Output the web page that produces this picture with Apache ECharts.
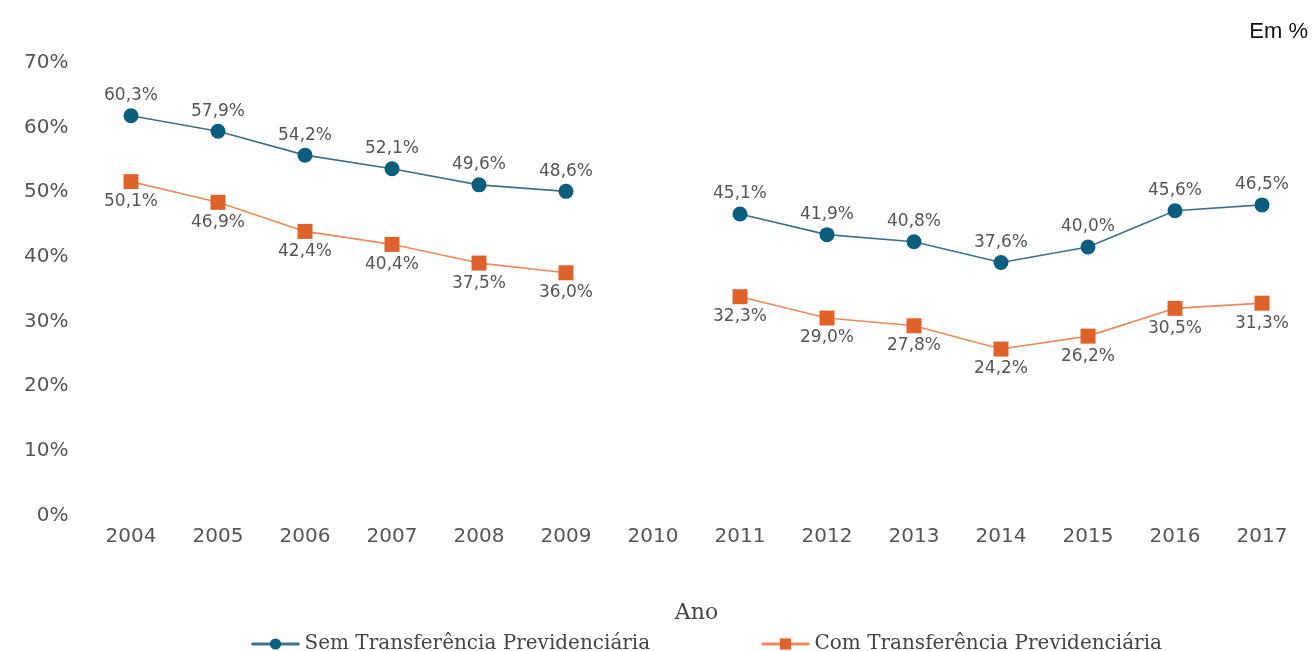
<!DOCTYPE html>
<html>
<head>
<meta charset="utf-8">
<script src="https://cdn.jsdelivr.net/npm/echarts@6/dist/echarts.min.js"></script>
<style>html,body{margin:0;padding:0;background:#fff;}#c{width:1314px;height:651px;}</style>
</head>
<body>
<div id="c"></div>
<script>
const categories = ['2004','2005','2006','2007','2008','2009','2010','2011','2012','2013','2014','2015','2016','2017'];
const semTransf = [60.3, 57.9, 54.2, 52.1, 49.6, 48.6, null, 45.1, 41.9, 40.8, 37.6, 40.0, 45.6, 46.5];
const comTransf = [50.1, 46.9, 42.4, 40.4, 37.5, 36.0, null, 32.3, 29.0, 27.8, 24.2, 26.2, 30.5, 31.3];
const seriesNames = ['Sem Transferência Previdenciária', 'Com Transferência Previdenciária'];

const fmt = p => p.value == null ? '' : p.value.toFixed(1).replace('.', ',') + '%';
const legendText = { fontFamily: 'DejaVu Serif', fontSize: 20, color: '#444' };
const chart = echarts.init(document.getElementById('c'));
chart.setOption({
  backgroundColor: '#fff',
  animation: false,
  title: {
    text: 'Em %', right: 1, top: 16,
    textStyle: { fontFamily: 'Liberation Sans', fontSize: 22, fontWeight: 'normal', color: '#111' }
  },
  legend: [
    { data: [seriesNames[0]], left: 245, top: 629, itemWidth: 48, itemHeight: 14, itemGap: 8,
      lineStyle: { width: 3 }, textStyle: legendText },
    { data: [seriesNames[1]], left: 755, top: 629, itemWidth: 48, itemHeight: 14, itemGap: 8,
      lineStyle: { width: 3 }, textStyle: legendText }
  ],
  grid: { left: 87.5, right: 8.5, top: 53, bottom: 145.5, containLabel: false },
  xAxis: {
    type: 'category', data: categories, boundaryGap: true,
    name: 'Ano', nameLocation: 'middle', nameGap: 97,
    nameTextStyle: { fontFamily: 'DejaVu Serif', fontSize: 22, color: '#444' },
    axisLine: { show: false }, axisTick: { show: false },
    axisLabel: { margin: 21, fontFamily: 'DejaVu Sans', fontSize: 20, color: '#555' },
    splitLine: { show: false }
  },
  yAxis: {
    type: 'value', min: 0, max: 70, interval: 10,
    axisLine: { show: false }, axisTick: { show: false }, splitLine: { show: false },
    axisLabel: { formatter: '{value}%', margin: 19, fontFamily: 'DejaVu Sans', fontSize: 20, color: '#555',
      verticalAlign: 'top', lineHeight: 20 }
  },
  series: [
    {
      name: seriesNames[0], type: 'line', data: semTransf, connectNulls: false,
      symbol: 'circle', symbolSize: 15,
      itemStyle: { color: '#0b5e7d' },
      lineStyle: { color: '#3f7086', width: 1.6 },
      label: { show: true, position: 'top', distance: 4, formatter: fmt,
        fontFamily: 'DejaVu Sans', fontSize: 17, color: '#555' }
    },
    {
      name: seriesNames[1], type: 'line', data: comTransf, connectNulls: false,
      symbol: 'rect', symbolSize: 15,
      itemStyle: { color: '#e0622b' },
      lineStyle: { color: '#ea8a5f', width: 1.6 },
      label: { show: true, position: 'bottom', distance: 4, formatter: fmt,
        fontFamily: 'DejaVu Sans', fontSize: 17, color: '#555' }
    }
  ]
});
</script>
</body>
</html>
